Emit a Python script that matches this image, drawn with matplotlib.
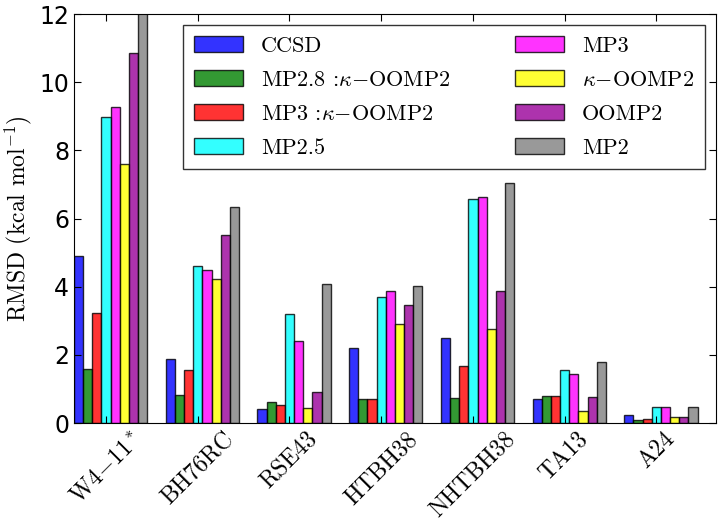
import numpy as np
import matplotlib
matplotlib.use('Agg')
import matplotlib.pyplot as plt

plt.rcParams['mathtext.fontset'] = 'cm'
plt.rcParams['axes.unicode_minus'] = False

# 数据
sets = [r'W4$-$11$^*$', 'BH76RC', 'RSE43', 'HTBH38', 'NHTBH38', 'TA13', 'A24']
methods = ['CCSD', r'MP2.8 :$\kappa$$-$OOMP2', r'MP3 :$\kappa$$-$OOMP2', 'MP2.5',
           'MP3', r'$\kappa$$-$OOMP2', 'OOMP2', 'MP2']
colors = ['#0000ff', '#008000', '#ff0000', '#00ffff', '#ff00ff', '#ffff00',
          '#990099', '#808080']

ccsd    = [4.91, 1.89, 0.42, 2.20, 2.51, 0.71, 0.23]
mp28k   = [1.58, 0.83, 0.63, 0.71, 0.74, 0.80, 0.08]
mp3k    = [3.23, 1.55, 0.52, 0.71, 1.66, 0.80, 0.12]
mp25    = [8.99, 4.61, 3.21, 3.69, 6.58, 1.55, 0.48]
mp3     = [9.27, 4.50, 2.41, 3.88, 6.64, 1.45, 0.48]
koomp2  = [7.60, 4.22, 0.45, 2.91, 2.77, 0.35, 0.18]
oomp2   = [10.85, 5.52, 0.91, 3.47, 3.88, 0.77, 0.18]
mp2     = [13.0, 6.33, 4.08, 4.03, 7.03, 1.79, 0.48]
data = [ccsd, mp28k, mp3k, mp25, mp3, koomp2, oomp2, mp2]

ind = np.arange(len(sets))
width = 0.1

fig = plt.figure(figsize=(7.21, 5.24), dpi=100)
ax = fig.add_axes([0.1026, 0.1927, 0.8904, 0.7803])

for i in range(len(methods)):
    ax.bar(ind + i*width, data[i], width, color=colors[i], alpha=0.8,
           edgecolor='k', linewidth=1, align='edge', label=methods[i])

ax.set_xlim(0, 7)
ax.set_ylim(0, 12)
ax.set_xticks(ind + 3.5*width)
ax.set_xticklabels(sets, rotation=45, fontsize=17, fontfamily='cmr10')
ax.set_yticks(np.arange(0, 13, 2))
ax.tick_params(axis='y', labelsize=17)
ax.tick_params(direction='in', top=True, right=True, length=5)
ax.set_ylabel(r'RMSD (kcal mol$^{-1}$)', fontsize=17, fontfamily='cmr10')

ax.legend(loc='upper right', ncol=2, fancybox=False, edgecolor='k',
          prop={'family': 'cmr10', 'size': 16}, labelspacing=0.65,
          handlelength=2.2, columnspacing=2.9, borderpad=0.5)

plt.savefig('out.png', dpi=100)
